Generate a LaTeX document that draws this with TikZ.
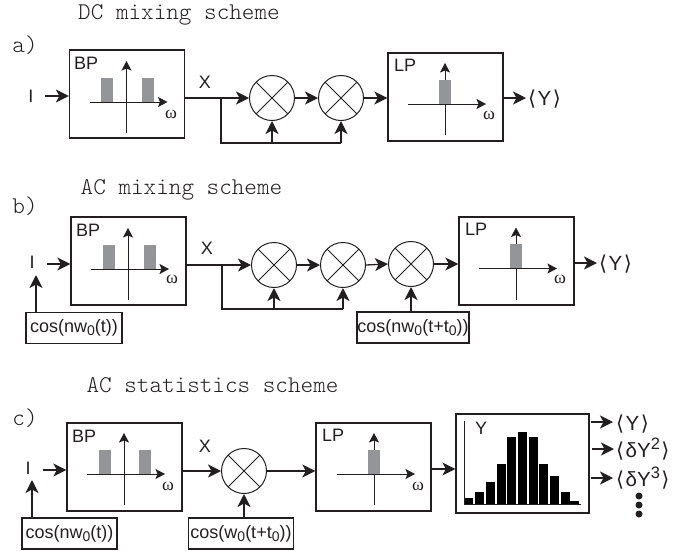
\documentclass[tikz,border=0pt]{standalone}
\usepackage{fontspec}
\setmainfont{Liberation Sans}
\newfontfamily\serifw{Liberation Serif}
\newfontfamily\brkfont{DejaVu Sans}
\setmonofont{Latin Modern Mono Light}
\usetikzlibrary{arrows.meta}
\definecolor{ink}{HTML}{231F20}
\definecolor{barg}{HTML}{939598}
\newcommand{\sbz}{\raisebox{-0.32ex}{\fontsize{14}{15}\selectfont 0}}
\newcommand{\spn}[1]{\raisebox{0.72ex}{\fontsize{16.5}{17}\selectfont #1}}
\newcommand{\brk}[1]{{\brkfont ⟨}\kern1.5pt #1\kern1.5pt{\brkfont ⟩}}
\newcommand{\axisplot}[3]{% cx, cy (axis crossing), extra bars
  \draw[axisline,-{Stealth[length=9.5pt,width=10pt,inset=2pt]}] (#1,#2+31) -- (#1,#2-41);
  \foreach \bx in {#3} \fill[barg] (#1+\bx-6,#2-24.5) rectangle (#1+\bx+6,#2);
  \draw[axisline,-{Stealth[length=9.5pt,width=10pt,inset=2pt]}] (#1-37,#2) -- (#1+41,#2);
}
\tikzset{
  x=1pt,y=-1pt,
  every node/.style={text=ink,inner sep=0pt,font=\fontsize{18}{19}\selectfont},
  box/.style={draw=ink,line width=1.3pt,minimum width=115pt,minimum height=88pt},
  srcbox/.style={draw=ink,line width=1.1pt,minimum height=31pt},
  mixer/.style={circle,draw=ink,line width=1pt,minimum size=45pt,
    path picture={\draw[ink,line width=1pt]
      (path picture bounding box.north west) -- (path picture bounding box.south east)
      (path picture bounding box.north east) -- (path picture bounding box.south west);}},
  arr/.style={draw=ink,line width=1.3pt,-{Stealth[length=13pt,width=13pt,inset=3.5pt]}},
  wire/.style={draw=ink,line width=1.3pt},
  axisline/.style={draw=ink,line width=1pt},
  mono/.style={font=\fontsize{24}{26}\ttfamily\selectfont,text=ink,anchor=base},
  lab/.style={anchor=base},
  omega/.style={anchor=base,font=\fontsize{18}{19}\serifw\selectfont},
  outlab/.style={anchor=base west,font=\fontsize{20.5}{22}\selectfont},
}
\begin{document}
\begin{tikzpicture}
\useasboundingbox (0,0) rectangle (689,550);
% ---------- titles
\node[mono] (ta) at (179,19) {DC mixing scheme};
\node[mono] (tb) at (181.5,194) {AC mixing scheme};
\node[mono] (tc) at (212.5,392) {AC statistics scheme};
\node[mono] (la) at (25,52) {a)};
\node[mono] (lb) at (25,213) {b)};
\node[mono] (lc) at (25,425) {c)};

% ---------- a
\node[box] (bpa) at (127,94) {};
\node[box] (lpa) at (445.5,97) {};
\axisplot{126.5}{102}{-19.5,21.5}
\axisplot{445}{104}{0}
\node[lab,anchor=base west] (bpta) at (74,69) {BP};
\node[lab,anchor=base west] (lpta) at (394,71) {LP};
\node[omega] (wa1) at (171,118) {ω};
\node[omega] (wa2) at (489,119) {ω};
\node[lab] (ia) at (31,102) {I};
\node[lab] (xa) at (205,88) {X};
\node[mixer] (ma1) at (272,98) {};
\node[mixer] (ma2) at (341,98) {};
\node[outlab] (ya) at (528,105) {\brk{Y}};
\coordinate (ia0) at (45,96);
\coordinate (ja) at (221,97);
\coordinate (oa) at (526,98);
\draw[arr] (ia0) -- (bpa.west |- ia0);
\draw[arr] (bpa.east |- ma1.west) -- (ma1.west);
\draw[arr] (ma1.east) -- (ma2.west);
\draw[arr] (ma2.east) -- (lpa.west |- ma2.east);
\draw[arr] (lpa.east |- oa) -- (oa);
\draw[wire] (ja |- ma1.west) -- (221,143) -- (341,143);
\draw[arr] (ma1.south |- 0,143) -- (ma1.south);
\draw[arr] (ma2.south |- 0,143) -- (ma2.south);

% ---------- b
\node[box] (bpb) at (128.5,261) {};
\node[box] (lpb) at (516.5,261) {};
\axisplot{128}{269}{-19,22}
\axisplot{516}{268.5}{0}
\node[lab,anchor=base west] (bptb) at (76,236) {BP};
\node[lab,anchor=base west] (lptb) at (465,235) {LP};
\node[omega] (wb1) at (172,283) {ω};
\node[omega] (wb2) at (560,283) {ω};
\node[lab] (ib) at (32,268) {I};
\node[lab] (xb) at (207,254) {X};
\node[mixer] (mb1) at (274,265) {};
\node[mixer] (mb2) at (343,265) {};
\node[mixer] (mb3) at (411,264) {};
\node[srcbox,minimum width=96pt] (cb1) at (74,328) {cos(nw\sbz(t))};
\node[srcbox,minimum width=112pt] (cb2) at (413,327.5) {cos(nw\sbz(t+t\sbz))};
\node[outlab] (yb) at (599,270) {\brk{Y}};
\coordinate (ib0) at (47,264);
\coordinate (ob) at (597,263);
\coordinate (ub) at (36,275);
\draw[arr] (ib0) -- (bpb.west |- ib0);
\draw[arr] (cb1.north -| ub) -- (ub);
\draw[arr] (bpb.east |- mb1.west) -- (mb1.west);
\draw[arr] (mb1.east) -- (mb2.west);
\draw[arr] (mb2.east) -- (mb3.west);
\draw[arr] (mb3.east) -- (lpb.west |- mb3.east);
\draw[arr] (lpb.east |- ob) -- (ob);
\draw[wire] (222,265) -- (222,309) -- (343,309);
\draw[arr] (mb1.south |- 0,309) -- (mb1.south);
\draw[arr] (mb2.south |- 0,309) -- (mb2.south);
\draw[arr] (cb2.north -| mb3) -- (mb3.south);

% ---------- c
\node[box] (bpc) at (124.5,467) {};
\node[box] (lpc) at (373.5,467) {};
\axisplot{124}{474}{-19,21}
\axisplot{374}{474}{0}
\node[lab,anchor=base west] (bptc) at (72,442) {BP};
\node[lab,anchor=base west] (lptc) at (322,441) {LP};
\node[omega] (wc1) at (168,490) {ω};
\node[omega] (wc2) at (418,490) {ω};
\node[lab] (ic) at (28,474) {I};
\node[lab] (xc) at (205,452) {X};
\node[mixer] (mc) at (244,471) {};
\node[srcbox,minimum width=95pt] (cc1) at (69.5,533.5) {cos(nw\sbz(t))};
\node[srcbox,minimum width=105pt] (cc2) at (241,533.5) {cos(w\sbz(t+t\sbz))};
\node[draw=ink,line width=1.2pt,minimum width=133pt,minimum height=99pt] (hist) at (522.5,463.5) {};
% histogram
\foreach \lft/\tp in {358/498,391/492,423/482,455/464,487/437,519/432,551/437,583/464,615/476,647/492,676/501}
  \fill[black] ({345+\lft/3},\tp) rectangle ({345+\lft/3+9},504);
\draw[ink,line width=1pt] (464,421) -- (464,504) -- (581,504);
\node[lab] (yh) at (481,434) {Y};
\node[outlab] (yc1) at (616,430) {\brk{Y}};
\node[outlab] (yc2) at (616,457) {\brk{δY\spn{2}}};
\node[outlab] (yc3) at (616,486) {\brk{δY\spn{3}}};
\node[circle,fill=ink,minimum size=7pt] (d1) at (639,496) {};
\node[circle,fill=ink,minimum size=7pt] (d2) at (639,505) {};
\node[circle,fill=ink,minimum size=7pt] (d3) at (639,514) {};
\coordinate (ic0) at (43,470);
\coordinate (uc) at (32,480);
\coordinate (oc1a) at (591,422);
\coordinate (oc1b) at (613,422);
\coordinate (oc2a) at (592,449);
\coordinate (oc2b) at (614,449);
\coordinate (oc3a) at (591,478);
\coordinate (oc3b) at (613,478);
\draw[arr] (ic0) -- (bpc.west |- ic0);
\draw[arr] (cc1.north -| uc) -- (uc);
\draw[arr] (bpc.east |- mc.west) -- (mc.west);
\draw[arr] (mc.east) -- (lpc.west |- mc.east);
\draw[arr] (cc2.north -| mc) -- (mc.south);
\draw[arr] (lpc.east |- 0,469) -- (hist.west |- 0,469);
\draw[arr] (oc1a) -- (oc1b);
\draw[arr] (oc2a) -- (oc2b);
\draw[arr] (oc3a) -- (oc3b);
\end{tikzpicture}
\end{document}
